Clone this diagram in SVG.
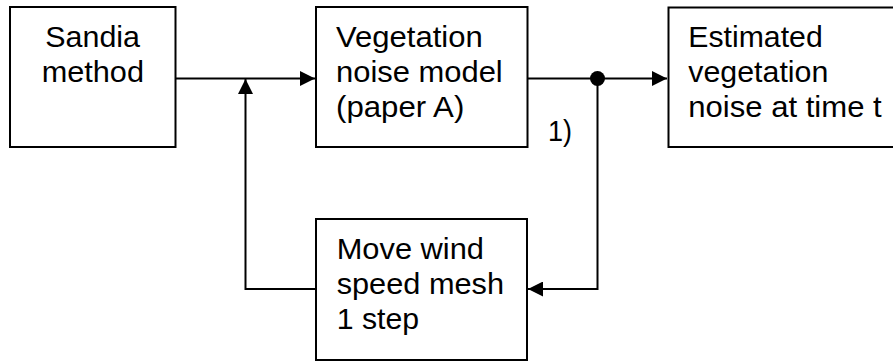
<svg xmlns="http://www.w3.org/2000/svg" width="893" height="361" viewBox="0 0 893 361">
<style>
.box{fill:#fff;stroke:#000;stroke-width:2}
.ln{fill:none;stroke:#000;stroke-width:2}
text{font-family:"Liberation Sans",Arial,sans-serif;font-size:29px;fill:#000}
</style>
<defs>
<marker id="ah" viewBox="0 0 15 15" refX="15" refY="7.5" markerWidth="15" markerHeight="15" markerUnits="userSpaceOnUse" orient="auto">
<path d="M0,0 L15,7.5 L0,15 Z" fill="#000"/>
</marker>
</defs>
<rect width="893" height="361" fill="#fff"/>
<g id="connectors">
<line class="ln" x1="176" y1="78.5" x2="315" y2="78.5" marker-end="url(#ah)"/>
<polyline class="ln" points="316,289 245.5,289 245.5,79" marker-end="url(#ah)"/>
<line class="ln" x1="528" y1="78.5" x2="667" y2="78.5" marker-end="url(#ah)"/>
<polyline class="ln" points="597.5,78.5 597.5,289 528,289" marker-end="url(#ah)"/>
<circle cx="597.5" cy="78.5" r="7.5" fill="#000"/>
<text x="548" y="140.5" textLength="24" lengthAdjust="spacingAndGlyphs">1)</text>
</g>
<g id="sandia">
<rect class="box" x="10" y="7" width="165.5" height="140"/>
<text x="45.3" y="46.7" textLength="94.7" lengthAdjust="spacingAndGlyphs">Sandia</text>
<text x="41.7" y="82" textLength="102.3" lengthAdjust="spacingAndGlyphs">method</text>
</g>
<g id="vegmodel">
<rect class="box" x="316" y="7" width="211.5" height="140"/>
<text x="336" y="47" textLength="146.7" lengthAdjust="spacingAndGlyphs">Vegetation</text>
<text x="336" y="82" textLength="166.7" lengthAdjust="spacingAndGlyphs">noise model</text>
<text x="336" y="117" textLength="128.3" lengthAdjust="spacingAndGlyphs">(paper A)</text>
</g>
<g id="estimated">
<rect class="box" x="668.5" y="7.5" width="240" height="139.5"/>
<text x="688.3" y="47" textLength="134.4" lengthAdjust="spacingAndGlyphs">Estimated</text>
<text x="688.3" y="82" textLength="140" lengthAdjust="spacingAndGlyphs">vegetation</text>
<text x="688.3" y="117" textLength="193.4" lengthAdjust="spacingAndGlyphs">noise at time t</text>
</g>
<g id="movewind">
<rect class="box" x="316" y="219" width="211" height="141"/>
<text x="336.7" y="258.5" textLength="147.3" lengthAdjust="spacingAndGlyphs">Move wind</text>
<text x="336.7" y="293.5" textLength="167.3" lengthAdjust="spacingAndGlyphs">speed mesh</text>
<text x="336.7" y="328.5" textLength="82.3" lengthAdjust="spacingAndGlyphs">1 step</text>
</g>
</svg>
